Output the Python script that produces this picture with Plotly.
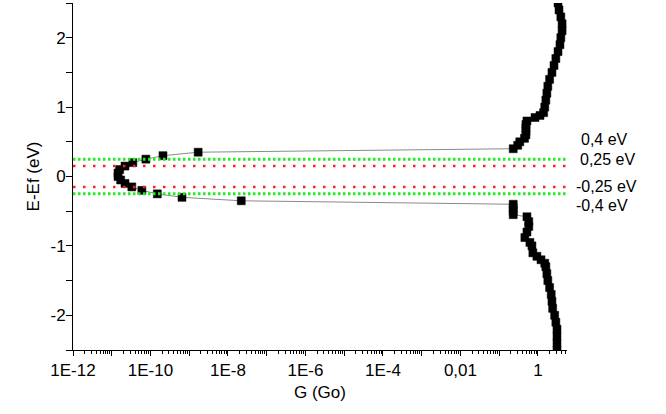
import plotly.graph_objects as go

# ---- data ----
E_neg = [-2.5, -2.4, -2.3, -2.2, -2.1, -2.0, -1.9, -1.8, -1.7, -1.6, -1.5, -1.4,
         -1.3, -1.25, -1.2, -1.15, -1.1, -1.0, -0.95, -0.88, -0.8, -0.72, -0.65,
         -0.58, -0.55, -0.5, -0.45, -0.4]
G_neg = [3.1, 3.1, 3.1, 3.1, 2.9, 2.7, 2.4, 2.3, 2.2, 2.0, 1.8, 1.7,
         1.6, 1.5, 1.2, 0.94, 0.74, 0.70, 0.62, 0.46, 0.52, 0.58, 0.58,
         0.52, 0.23, 0.23, 0.23, 0.23]

E_left = [-0.35, -0.30, -0.25, -0.20, -0.15, -0.10, -0.05, 0.0, 0.05, 0.10,
          0.15, 0.20, 0.25, 0.30, 0.35]
G_left = [2.2e-8, 6.5e-10, 1.5e-10, 6.0e-11, 3.3e-11, 2.2e-11, 1.7e-11, 1.45e-11,
          1.45e-11, 1.6e-11, 2.2e-11, 3.5e-11, 7.6e-11, 2.1e-10, 1.7e-9]

E_pos = [0.40, 0.45, 0.50, 0.55, 0.60, 0.65, 0.70, 0.75, 0.80, 0.85, 0.88, 0.92,
         1.0, 1.1, 1.2, 1.3, 1.4, 1.5, 1.6, 1.7, 1.8, 1.9, 2.0, 2.1, 2.2, 2.3,
         2.4, 2.5]
G_pos = [0.23, 0.30, 0.34, 0.45, 0.49, 0.49, 0.49, 0.49, 0.52, 0.84, 1.13, 1.4,
         1.5, 1.6, 1.7, 1.8, 2.0, 2.3, 2.6, 2.9, 3.3, 3.7, 3.9, 4.2, 4.2, 3.9,
         3.5, 3.3]

green_levels = [0.25, -0.25]
red_levels = [0.15, -0.15]

label_texts = ["0,4 eV", "0,25 eV", "-0,25 eV", "-0,4 eV"]
label_y = [0.53, 0.25, -0.14, -0.42]
label_x = [1.025, 1.022, 1.015, 1.015]

x_tick_vals = [10.0 ** k for k in range(-12, 1)]
x_tick_text = ["1E-12", "", "1E-10", "", "1E-8", "", "1E-6", "", "1E-4", "",
               "0,01", "", "1"]
x_minor_vals = [m * 10.0 ** k for k in range(-12, 1) for m in range(2, 10)]

y_tick_vals = [-2, -1, 0, 1, 2]
y_tick_text = ["-2", "-1", "0", "1", "2"]

FONT = "Liberation Sans, Arial, sans-serif"
FS = 17

E_all = E_neg + E_left + E_pos
G_all = G_neg + G_left + G_pos

fig = go.Figure()
fig.add_trace(go.Scatter(
    x=G_all, y=E_all, mode="lines+markers",
    line=dict(color="#8a8a8a", width=1),
    marker=dict(symbol="square", size=8, color="black",
                line=dict(color="black", width=0.5)),
    showlegend=False, hoverinfo="skip"))

shapes = []
for yv in red_levels:
    shapes.append(dict(type="line", xref="paper", yref="y", x0=0.0, x1=1.0,
                       y0=yv, y1=yv, layer="above",
                       line=dict(color="#ff2020", width=2.5, dash="2.5px,7.5px")))
for yv in green_levels:
    shapes.append(dict(type="line", xref="paper", yref="y", x0=0.0, x1=1.0,
                       y0=yv, y1=yv, layer="above",
                       line=dict(color="#22ee22", width=3, dash="2.5px,2.5px")))

annotations = []
for t, yv, xv in zip(label_texts, label_y, label_x):
    annotations.append(dict(text=t, x=xv, y=yv, xref="paper", yref="y",
                            xanchor="left", yanchor="middle", showarrow=False,
                            font=dict(family=FONT, size=16, color="black")))

fig.update_layout(
    width=666, height=414,
    margin=dict(l=73, r=99, t=3, b=64),
    paper_bgcolor="white", plot_bgcolor="white",
    font=dict(family=FONT, size=FS, color="black"),
    shapes=shapes, annotations=annotations,
    xaxis=dict(type="log", range=[-12, 0.75],
               tickmode="array", tickvals=x_tick_vals, ticktext=x_tick_text,
               ticks="outside", ticklen=5, tickwidth=1, tickcolor="black",
               showline=True, linecolor="black", linewidth=1,
               showgrid=False, zeroline=False,
               minor=dict(tickmode="array", tickvals=x_minor_vals,
                          ticks="outside", ticklen=3, tickwidth=1,
                          tickcolor="black", showgrid=False),
               title=dict(text="G (Go)", font=dict(family=FONT, size=FS),
                          standoff=6),
               tickfont=dict(family=FONT, size=FS)),
    yaxis=dict(range=[-2.5, 2.5], tickmode="array", tickvals=y_tick_vals,
               ticktext=y_tick_text,
               ticks="outside", ticklen=6, tickwidth=1, tickcolor="black",
               showline=True, linecolor="black", linewidth=1,
               showgrid=False, zeroline=False, ticklabelstandoff=-3,
               minor=dict(tickmode="linear", tick0=0, dtick=0.5,
                          ticks="outside", ticklen=6, tickwidth=1,
                          tickcolor="black", showgrid=False),
               title=dict(text="E-Ef (eV)", font=dict(family=FONT, size=FS),
                          standoff=6),
               tickfont=dict(family=FONT, size=FS)),
)

fig.write_html("out.html")
